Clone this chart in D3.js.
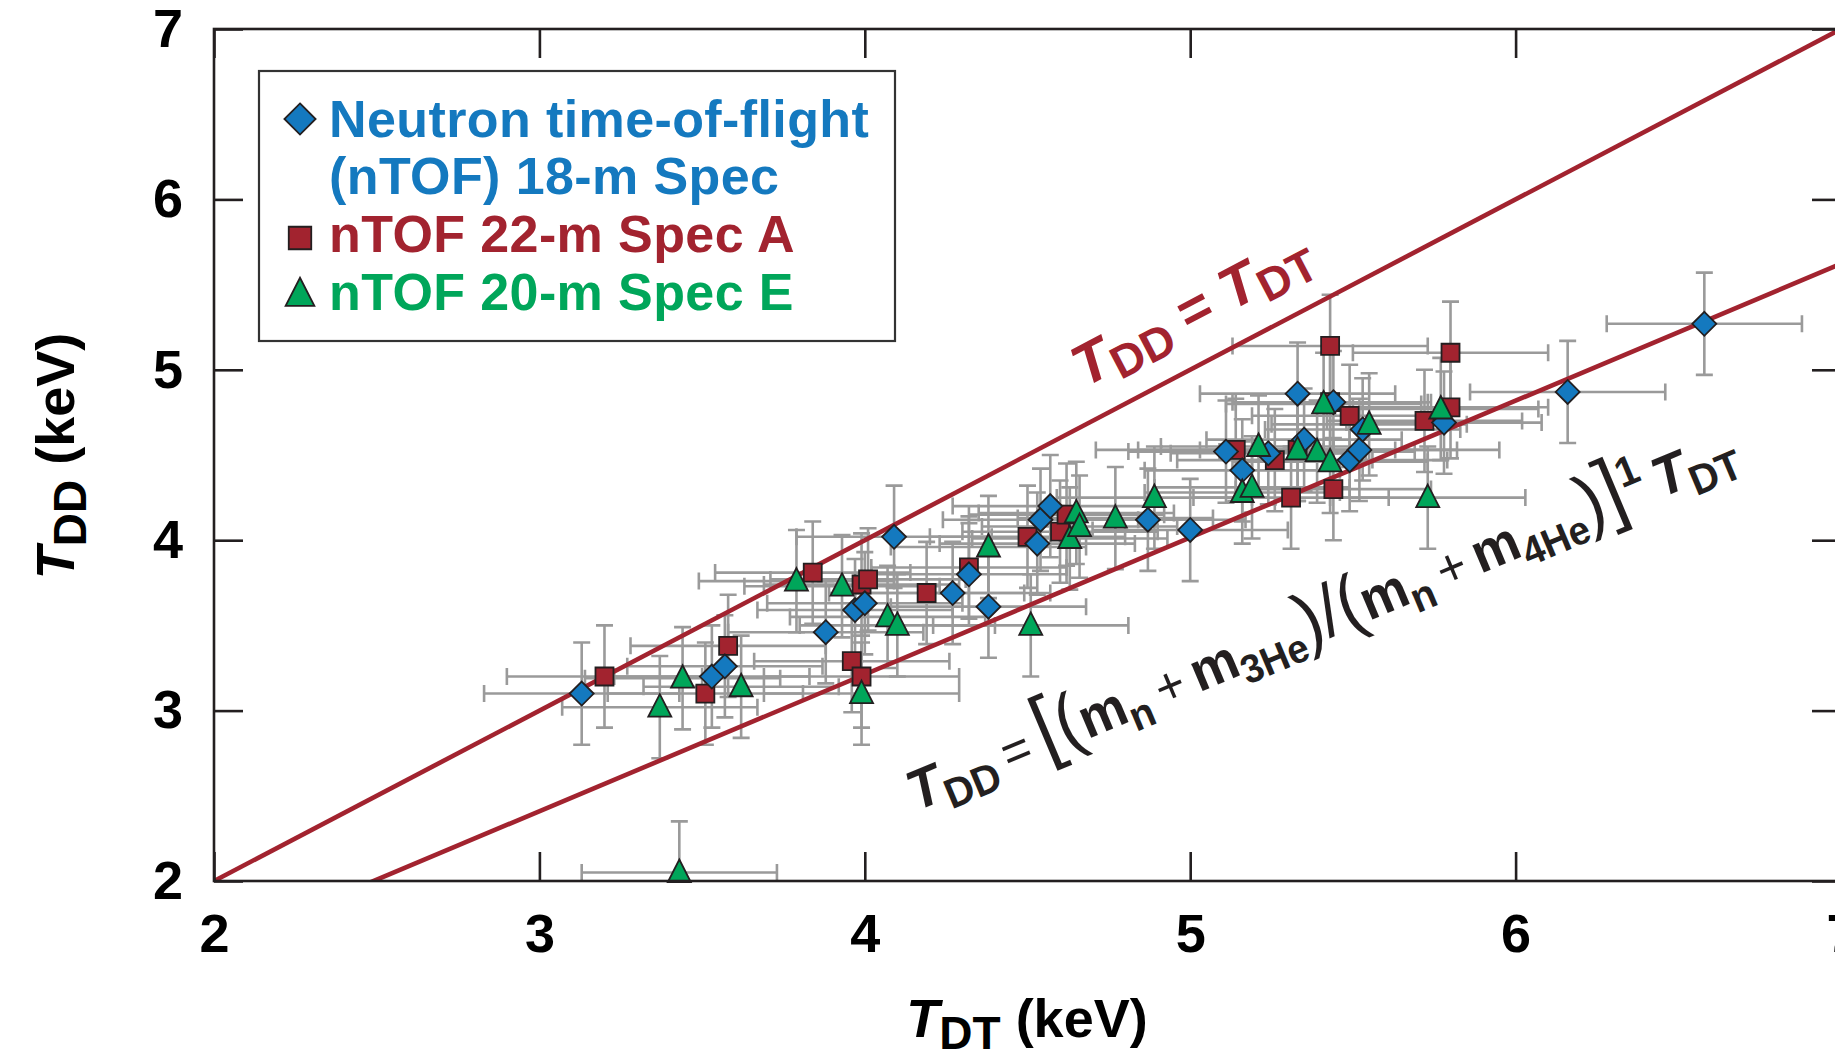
<!DOCTYPE html>
<html>
<head>
<meta charset="utf-8">
<script src="https://cdn.jsdelivr.net/npm/d3@7"></script>
<style>
  html, body { margin: 0; padding: 0; background: #fff; overflow: hidden; }
  svg { display: block; }
  text { font-family: "Liberation Sans", Arial, Helvetica, sans-serif; font-weight: bold; }
</style>
</head>
<body>
<svg id="chart" width="1835" height="1056"></svg>
<script>
// Ion temperature from DD neutrons vs DT neutrons (keV), three nTOF spectrometers.

const xTicks = [2, 3, 4, 5, 6, 7];
const yTicks = [2, 3, 4, 5, 6, 7];

// nTOF 18-m spectrometer
const spec18X    = [3.13, 3.53, 3.57, 3.88, 3.97, 4.00, 4.09, 4.27, 4.32, 4.38, 4.53, 4.54, 4.57, 4.87, 5.00, 5.11, 5.16, 5.24, 5.33, 5.35, 5.44, 5.49, 5.52, 5.53, 5.78, 6.16, 6.58];
const spec18Y    = [3.10, 3.20, 3.26, 3.46, 3.59, 3.63, 4.02, 3.69, 3.80, 3.61, 3.98, 4.12, 4.20, 4.12, 4.06, 4.52, 4.41, 4.51, 4.86, 4.59, 4.81, 4.47, 4.53, 4.65, 4.69, 4.87, 5.27];
const spec18XErr = [0.30, 0.30, 0.30, 0.30, 0.30, 0.30, 0.30, 0.30, 0.30, 0.30, 0.30, 0.30, 0.30, 0.30, 0.30, 0.30, 0.30, 0.30, 0.30, 0.30, 0.30, 0.30, 0.30, 0.30, 0.30, 0.30, 0.30];
const spec18YErr = [0.30, 0.30, 0.30, 0.30, 0.30, 0.30, 0.30, 0.30, 0.30, 0.30, 0.30, 0.30, 0.30, 0.30, 0.30, 0.30, 0.30, 0.30, 0.30, 0.30, 0.30, 0.30, 0.30, 0.30, 0.30, 0.30, 0.30];

// nTOF 22-m Spec A
const specAX    = [3.20, 3.51, 3.58, 3.84, 3.96, 3.99, 4.01, 3.99, 4.19, 4.32, 4.50, 4.60, 4.62, 5.14, 5.26, 5.31, 5.33, 5.43, 5.43, 5.44, 5.49, 5.72, 5.80, 5.80];
const specAY    = [3.20, 3.10, 3.38, 3.81, 3.29, 3.74, 3.77, 3.20, 3.69, 3.84, 4.02, 4.05, 4.15, 4.53, 4.47, 4.25, 4.53, 5.14, 4.81, 4.30, 4.73, 4.70, 5.10, 4.78];
const specAXErr = [0.30, 0.30, 0.30, 0.30, 0.30, 0.30, 0.30, 0.30, 0.30, 0.30, 0.30, 0.30, 0.30, 0.30, 0.30, 0.30, 0.30, 0.30, 0.30, 0.30, 0.30, 0.30, 0.30, 0.30];
const specAYErr = [0.30, 0.30, 0.30, 0.30, 0.30, 0.30, 0.30, 0.30, 0.30, 0.30, 0.30, 0.30, 0.30, 0.30, 0.30, 0.30, 0.30, 0.30, 0.30, 0.30, 0.30, 0.30, 0.30, 0.30];

// nTOF 20-m Spec E
const specEX    = [3.37, 3.44, 3.43, 3.62, 3.79, 3.93, 3.99, 4.07, 4.10, 4.38, 4.51, 4.63, 4.65, 4.66, 4.77, 4.89, 5.16, 5.19, 5.21, 5.33, 5.39, 5.41, 5.43, 5.55, 5.73, 5.77];
const specEY    = [3.02, 3.19, 2.05, 3.14, 3.76, 3.73, 3.10, 3.55, 3.50, 3.96, 3.50, 4.01, 4.16, 4.08, 4.13, 4.25, 4.28, 4.31, 4.55, 4.53, 4.52, 4.80, 4.46, 4.68, 4.25, 4.77];
const specEXErr = [0.30, 0.30, 0.30, 0.30, 0.30, 0.30, 0.30, 0.30, 0.30, 0.30, 0.30, 0.30, 0.30, 0.30, 0.30, 0.30, 0.30, 0.30, 0.30, 0.62, 0.30, 0.30, 0.30, 0.30, 0.30, 0.30];
const specEYErr = [0.30, 0.30, 0.30, 0.30, 0.30, 0.30, 0.30, 0.30, 0.30, 0.30, 0.30, 0.30, 0.30, 0.30, 0.30, 0.30, 0.30, 0.30, 0.30, 0.30, 0.30, 0.30, 0.30, 0.30, 0.30, 0.30];

// Reference lines: equal temperatures, and the kinematic mass-ratio scaling
const refLineX = [2, 7];
const massN = 1.00866, mass3He = 3.01603, mass4He = 4.00260;
const massRatio = (massN + mass3He) / (massN + mass4He);

const legendLines = [
  { text: "Neutron time-of-flight", series: "s18" },
  { text: "(nTOF) 18-m Spec", series: null },
  { text: "nTOF 22-m Spec A", series: "sA" },
  { text: "nTOF 20-m Spec E", series: "sE" }
];

// ---------------------------------------------------------------------------
const RED = "#a2232f", BLUE = "#1479bf", GREEN = "#00a65a";
const INK = "#231f20", BAR = "#9a9a9a";
const THIN = "\u2009";

const series = [
  { key: "sA",  xs: specAX,  ys: specAY,  ex: specAXErr,  ey: specAYErr,  color: RED,   shape: "square" },
  { key: "s18", xs: spec18X, ys: spec18Y, ex: spec18XErr, ey: spec18YErr, color: BLUE,  shape: "diamond" },
  { key: "sE",  xs: specEX,  ys: specEY,  ex: specEXErr,  ey: specEYErr,  color: GREEN, shape: "triangle" }
].map(s => ({ ...s, pts: s.xs.map((v, i) => ({ x: v, y: s.ys[i], ex: s.ex[i], ey: s.ey[i] })) }));

const svg = d3.select("#chart");
const frame = { left: 214, top: 29, right: 1841, bottom: 881 };

const x = d3.scaleLinear().domain([2, 7]).range([frame.left, frame.right]);
const y = d3.scaleLinear().domain([2, 7]).range([frame.bottom, frame.top]);

svg.append("defs").append("clipPath").attr("id", "plotClip")
  .append("rect")
  .attr("x", frame.left).attr("y", frame.top)
  .attr("width", frame.right - frame.left).attr("height", frame.bottom - frame.top);

function shapePath(shape, scale) {
  const k = scale || 1;
  if (shape === "diamond") { const r = 12 * k; return `M0,${-r}L${r},0L0,${r}L${-r},0Z`; }
  if (shape === "square")  { const h = 9 * k; return `M${-h},${-h}H${h}V${h}H${-h}Z`; }
  const w = 11.5 * k, top = -13 * k, base = 9.5 * k;
  return `M0,${top}L${w},${base}L${-w},${base}Z`;
}

// Error bars (drawn first, under everything)
const bars = svg.append("g").attr("clip-path", "url(#plotClip)")
  .attr("stroke", BAR).attr("stroke-width", 2.6).attr("fill", "none");
const cap = 8.5;
series.forEach(s => {
  s.pts.forEach(p => {
    const cx = x(p.x), cy = y(p.y);
    const x0 = x(p.x - p.ex), x1 = x(p.x + p.ex);
    const y0 = y(p.y - p.ey), y1 = y(p.y + p.ey);
    bars.append("path").attr("d",
      `M${x0},${cy}H${x1}` +
      `M${x0},${cy - cap}V${cy + cap}M${x1},${cy - cap}V${cy + cap}` +
      `M${cx},${y0}V${y1}` +
      `M${cx - cap},${y0}H${cx + cap}M${cx - cap},${y1}H${cx + cap}`);
  });
});

// Reference lines
const line = d3.line().x(d => x(d[0])).y(d => y(d[1]));
const lines = svg.append("g").attr("clip-path", "url(#plotClip)")
  .attr("fill", "none").attr("stroke", RED).attr("stroke-width", 4.6);
lines.append("path").attr("d", line(refLineX.map(v => [v, v])));
lines.append("path").attr("d", line(refLineX.map(v => [v, massRatio * v])));

// Markers
series.forEach(s => {
  svg.append("g").selectAll("path").data(s.pts).join("path")
    .attr("transform", d => `translate(${x(d.x)},${y(d.y)})`)
    .attr("d", shapePath(s.shape))
    .attr("fill", s.color).attr("stroke", INK).attr("stroke-width", 1.8)
    .attr("stroke-linejoin", "miter");
});

// Axes: ticks on all four sides, pointing inward
const tickLen = 29;
function styleAxis(g) {
  g.select(".domain").remove();
  g.selectAll(".tick line").attr("stroke", INK).attr("stroke-width", 2.6);
  g.selectAll(".tick text").attr("fill", "#000").attr("font-size", 54)
    .attr("font-family", '"Liberation Sans", Arial, sans-serif').attr("font-weight", "bold");
}
svg.append("g").attr("transform", `translate(0,${frame.bottom})`)
  .call(d3.axisBottom(x).tickValues(xTicks).tickFormat(d3.format("d"))
    .tickSizeInner(-tickLen).tickSizeOuter(0).tickPadding(33))
  .call(styleAxis);
svg.append("g").attr("transform", `translate(${frame.left},0)`)
  .call(d3.axisLeft(y).tickValues(yTicks).tickFormat(d3.format("d"))
    .tickSizeInner(-tickLen).tickSizeOuter(0).tickPadding(31))
  .call(styleAxis);
svg.append("g").attr("transform", `translate(0,${frame.top})`)
  .call(d3.axisTop(x).tickValues(xTicks).tickFormat("").tickSizeInner(-tickLen).tickSizeOuter(0))
  .call(styleAxis);
svg.append("g").attr("transform", `translate(${frame.right},0)`)
  .call(d3.axisRight(y).tickValues(yTicks).tickFormat("").tickSizeInner(-tickLen).tickSizeOuter(0))
  .call(styleAxis);

svg.append("rect")
  .attr("x", frame.left).attr("y", frame.top)
  .attr("width", frame.right - frame.left).attr("height", frame.bottom - frame.top)
  .attr("fill", "none").attr("stroke", INK).attr("stroke-width", 2.6);

// Rich text helper: sequential tspans with sub/superscripts
function richText(sel, parts) {
  let shift = 0;
  parts.forEach(p => {
    const target = p.sub ? (p.drop || 13) : p.sup ? -24 : 0;
    sel.append("tspan").text(p.t)
      .attr("dy", target - shift)
      .attr("font-size", p.size)
      .attr("font-style", p.it ? "italic" : "normal")
      .attr("font-weight", p.w || "bold");
    shift = target;
  });
  return sel;
}

// Axis titles
richText(svg.append("text").attr("x", 1027).attr("y", 1037).attr("text-anchor", "middle").attr("fill", "#000"), [
  { t: "T", it: true, size: 54 }, { t: "DT", sub: true, size: 46, drop: 12 }, { t: " (keV)", size: 54 }
]);
richText(svg.append("text").attr("transform", "translate(74,456) rotate(-90)").attr("text-anchor", "middle").attr("fill", "#000"), [
  { t: "T", it: true, size: 54 }, { t: "DD", sub: true, size: 46, drop: 12 }, { t: " (keV)", size: 54 }
]);

// Line labels, aligned with the line direction on screen
const angleOf = k => Math.atan2(y(2) - y(2 + k), x(3) - x(2)) * 180 / Math.PI;
const eqAngle = angleOf(1), ratioAngle = angleOf(massRatio);

richText(svg.append("text")
  .attr("transform", `translate(${x(5.08)},${y(5.08)}) rotate(${-eqAngle})`)
  .attr("x", 0).attr("y", -33).attr("text-anchor", "middle").attr("fill", RED), [
  { t: "T", it: true, size: 58 }, { t: "DD", sub: true, size: 46, drop: 10 },
  { t: " = ", size: 56 },
  { t: "T", it: true, size: 58 }, { t: "DT", sub: true, size: 46, drop: 10 }
]);

// Scaling relation, set slightly condensed along the lower line
richText(svg.append("text")
  .attr("transform", `translate(${x(4.16)},${y(2.41)}) rotate(${-ratioAngle}) scale(0.955,1)`)
  .attr("x", 0).attr("y", 0).attr("text-anchor", "start").attr("fill", INK), [
  { t: "T", it: true, size: 56 }, { t: "DD", sub: true, size: 42, drop: 12 },
  { t: THIN + "=" + THIN, size: 52, w: "normal" },
  { t: "[", size: 84, w: "normal" }, { t: "(", size: 74, w: "normal" },
  { t: "m", size: 56 }, { t: "n", sub: true, size: 42, drop: 12 },
  { t: THIN + "+" + THIN, size: 52, w: "normal" },
  { t: "m", size: 56 }, { t: "3He", sub: true, size: 40, drop: 12 },
  { t: ")", size: 74, w: "normal" }, { t: "/", size: 74, w: "normal" }, { t: "(", size: 74, w: "normal" },
  { t: "m", size: 56 }, { t: "n", sub: true, size: 42, drop: 12 },
  { t: THIN + "+" + THIN, size: 52, w: "normal" },
  { t: "m", size: 56 }, { t: "4He", sub: true, size: 40, drop: 12 },
  { t: ")", size: 74, w: "normal" }, { t: "]", size: 84, w: "normal" },
  { t: "1", sup: true, size: 42 },
  { t: THIN + "T", it: true, size: 56 }, { t: "DT", sub: true, size: 42, drop: 12 }
]);

// Legend
const legend = svg.append("g");
legend.append("rect").attr("x", 259).attr("y", 71).attr("width", 636).attr("height", 270)
  .attr("fill", "#fff").attr("stroke", "#333").attr("stroke-width", 2.2);
const legendBaselines = [137, 194, 252, 310];
const markerY = { s18: 119, sA: 238, sE: 294 };
legendLines.forEach((L, i) => {
  const owner = L.series || "s18";
  const s = series.find(d => d.key === owner);
  legend.append("text").attr("x", 329).attr("y", legendBaselines[i])
    .attr("font-size", 52).attr("letter-spacing", 0.4).attr("fill", s.color).text(L.text);
  if (L.series) {
    legend.append("path").attr("transform", `translate(300,${markerY[L.series]})`)
      .attr("d", shapePath(s.shape, s.shape === "diamond" ? 1.3 : 1.25))
      .attr("fill", s.color).attr("stroke", INK).attr("stroke-width", 1.8);
  }
});
</script>
</body>
</html>
